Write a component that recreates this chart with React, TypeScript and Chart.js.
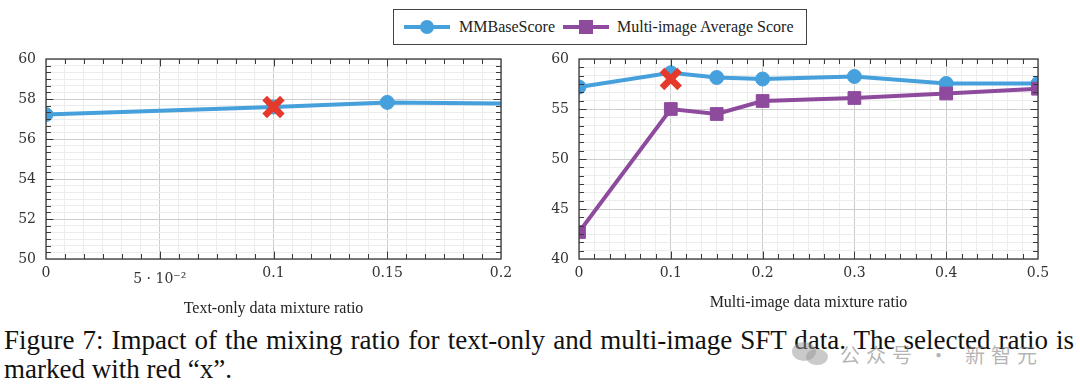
import { useEffect, useRef } from "react";
import { Chart, registerables } from "chart.js";

Chart.register(...registerables);

// ---------- data ----------
const textRatios = [0, 0.1, 0.15, 0.2];
const textMMBase = [57.22, 57.6, 57.83, 57.77];
const textMarkerRadius = [7, 7, 7, 0];
const textSelectedRatio = [0.1];
const textSelectedScore = [57.6];

const multiRatios = [0, 0.1, 0.15, 0.2, 0.3, 0.4, 0.5];
const multiMMBase = [57.2, 58.62, 58.15, 58.0, 58.25, 57.55, 57.55];
const multiAvg = [42.7, 55.0, 54.5, 55.8, 56.1, 56.55, 57.03];
const multiSelectedRatio = [0.1];
const multiSelectedScore = [58.0];

const textXTicks = [0, 0.05, 0.1, 0.15, 0.2];
const textXTickLabels = ["0", "5 · 10⁻²", "0.1", "0.15", "0.2"];
const textYTicks = [50, 52, 54, 56, 58, 60];
const textYTickLabels = ["50", "52", "54", "56", "58", "60"];

const multiXTicks = [0, 0.1, 0.2, 0.3, 0.4, 0.5];
const multiXTickLabels = ["0", "0.1", "0.2", "0.3", "0.4", "0.5"];
const multiYTicks = [40, 45, 50, 55, 60];
const multiYTickLabels = ["40", "45", "50", "55", "60"];

const seriesNames = ["MMBaseScore", "Multi-image Average Score"];

// ---------- styles ----------
const BLUE = "#45a0dc";
const PURPLE = "#8e4a9d";
const RED = "#e5392b";
const SERIF = "'Liberation Serif', 'Times New Roman', serif";
const TICKFONT = "'DejaVu Serif', serif";
const SUBDIV = 6;

function withMinor(majors: number[], sub: number): number[] {
  const out: number[] = [];
  for (let i = 0; i < majors.length - 1; i++) {
    const a = majors[i];
    const b = majors[i + 1];
    for (let k = 0; k < sub; k++) out.push(a + ((b - a) * k) / sub);
  }
  out.push(majors[majors.length - 1]);
  return out;
}

function majorIndex(v: number, majors: number[]): number {
  for (let i = 0; i < majors.length; i++) {
    if (Math.abs(v - majors[i]) < 1e-9) return i;
  }
  return -1;
}

const framePlugin = {
  id: "frame",
  afterDatasetsDraw(chart: any, _args: any, opts: any) {
    const { ctx, chartArea, scales } = chart;
    const { left, right, top, bottom } = chartArea;
    ctx.save();
    ctx.strokeStyle = "#3a3a3a";
    ctx.lineWidth = 1;
    const xs = scales.x;
    const ys = scales.y;
    ctx.beginPath();
    xs.ticks.forEach((t: any) => {
      const p = Math.round(xs.getPixelForValue(t.value)) + 0.5;
      if (p <= left + 1 || p >= right - 1) return;
      const len = majorIndex(t.value, opts.xMajor) >= 0 ? 7.5 : 5;
      ctx.moveTo(p, top);
      ctx.lineTo(p, top + len);
      ctx.moveTo(p, bottom);
      ctx.lineTo(p, bottom - len);
    });
    ys.ticks.forEach((t: any) => {
      const p = Math.round(ys.getPixelForValue(t.value)) + 0.5;
      if (p <= top + 1 || p >= bottom - 1) return;
      const len = majorIndex(t.value, opts.yMajor) >= 0 ? 7.5 : 5;
      ctx.moveTo(left, p);
      ctx.lineTo(left + len, p);
      ctx.moveTo(right, p);
      ctx.lineTo(right - len, p);
    });
    ctx.stroke();
    ctx.lineWidth = 1.3;
    ctx.strokeRect(left, top, right - left, bottom - top);
    ctx.restore();
  },
};

function makeAxis(
  axis: "x" | "y",
  majors: number[],
  labels: string[],
  title: string | null,
  size: number,
  titlePadBottom: number,
  specialLabel: number | null
) {
  const all = withMinor(majors, SUBDIV);
  const base: any = {
    type: "linear",
    min: majors[0],
    max: majors[majors.length - 1],
    afterBuildTicks: (s: any) => {
      s.ticks = all.map((v) => ({ value: v }));
    },
    ticks: {
      autoSkip: false,
      maxRotation: 0,
      minRotation: 0,
      padding: axis === "x" ? 6 : 10,
      color: "#333",
      font: (c: any) => {
        const v = c.tick ? c.tick.value : null;
        if (specialLabel !== null && v !== null && Math.abs(v - specialLabel) < 1e-9) {
          return { family: TICKFONT, size: 14, lineHeight: 2.0 };
        }
        return { family: TICKFONT, size: 14, lineHeight: 1.2 };
      },
      callback: (v: any) => {
        const i = majorIndex(Number(v), majors);
        return i >= 0 ? labels[i] : "";
      },
    },
    grid: {
      drawTicks: false,
      lineWidth: 1,
      color: (c: any) => {
        const v = c.tick ? c.tick.value : 0;
        return majorIndex(v, majors) >= 0 ? "#cdcdcd" : "#ececec";
      },
    },
    border: { display: false },
  };
  if (axis === "x") {
    base.afterFit = (s: any) => {
      s.height = size;
    };
    if (title) {
      base.title = {
        display: true,
        text: title,
        color: "#222",
        font: { family: SERIF, size: 16, lineHeight: 1.2 },
        padding: { top: 0, bottom: titlePadBottom },
      };
    }
  } else {
    base.afterFit = (s: any) => {
      s.width = size;
    };
  }
  return base;
}

function lineDataset(label: string, xs: number[], ys: number[], color: string, style: string, radius: any, order: number) {
  return {
    label,
    data: xs.map((x, i) => ({ x, y: ys[i] })),
    borderColor: color,
    backgroundColor: color,
    borderWidth: 4,
    pointStyle: style,
    pointRadius: radius,
    pointBackgroundColor: color,
    pointBorderColor: color,
    pointBorderWidth: 1,
    tension: 0,
    order,
  };
}

function selectedDataset(xs: number[], ys: number[]) {
  return {
    label: "selected",
    data: xs.map((x, i) => ({ x, y: ys[i] })),
    showLine: false,
    pointStyle: "crossRot",
    pointRadius: 12.5,
    pointBorderWidth: 6.5,
    pointBorderColor: RED,
    pointBackgroundColor: RED,
    borderColor: RED,
    order: 0,
  };
}

function ChartBox(props: { style: any; config: any }) {
  const ref = useRef<HTMLCanvasElement | null>(null);
  useEffect(() => {
    if (!ref.current) return;
    const chart = new Chart(ref.current, props.config);
    return () => chart.destroy();
  }, []);
  return (
    <div style={{ position: "absolute", ...props.style }}>
      <canvas ref={ref} />
    </div>
  );
}

const commonOptions = (padding: any, plugins: any) => ({
  responsive: true,
  maintainAspectRatio: false,
  animation: false,
  layout: { padding },
  plugins: {
    legend: { display: false },
    tooltip: { enabled: false },
    ...plugins,
  },
});

const leftConfig: any = {
  type: "line",
  data: {
    datasets: [
      selectedDataset(textSelectedRatio, textSelectedScore),
      lineDataset(seriesNames[0], textRatios, textMMBase, BLUE, "circle", textMarkerRadius, 2),
    ],
  },
  options: {
    ...commonOptions({ top: 59, right: 18, left: 0, bottom: 0 }, {
      frame: { xMajor: textXTicks, yMajor: textYTicks },
    }),
    scales: {
      x: makeAxis("x", textXTicks, textXTickLabels, "Text-only data mixture ratio", 61, 2, 0.05),
      y: makeAxis("y", textYTicks, textYTickLabels, null, 46, 0, null),
    },
  },
  plugins: [framePlugin],
};

const rightConfig: any = {
  type: "line",
  data: {
    datasets: [
      selectedDataset(multiSelectedRatio, multiSelectedScore),
      lineDataset(seriesNames[1], multiRatios, multiAvg, PURPLE, "rect", 9, 1),
      lineDataset(seriesNames[0], multiRatios, multiMMBase, BLUE, "circle", 7, 2),
    ],
  },
  options: {
    ...commonOptions({ top: 59, right: 42, left: 0, bottom: 0 }, {
      frame: { xMajor: multiXTicks, yMajor: multiYTicks },
    }),
    scales: {
      x: makeAxis("x", multiXTicks, multiXTickLabels, "Multi-image data mixture ratio", 61, 8, null),
      y: makeAxis("y", multiYTicks, multiYTickLabels, null, 49, 0, null),
    },
  },
  plugins: [framePlugin],
};

function LegendSample(props: { color: string; square: boolean }) {
  return (
    <div style={{ position: "relative", width: 46, height: 16, flex: "0 0 auto" }}>
      <div
        style={{
          position: "absolute",
          left: 0,
          right: 0,
          top: 6,
          height: 4,
          background: props.color,
        }}
      />
      <div
        style={{
          position: "absolute",
          left: 16,
          top: 1,
          width: 14,
          height: 14,
          background: props.color,
          borderRadius: props.square ? 0 : 7,
        }}
      />
    </div>
  );
}

export default function App() {
  return (
    <div
      style={{
        position: "fixed",
        left: 0,
        top: 0,
        width: 1080,
        height: 392,
        background: "#fff",
        overflow: "hidden",
        fontFamily: SERIF,
      }}
    >
      <ChartBox style={{ left: 0, top: 0, width: 520, height: 320 }} config={leftConfig} />
      <ChartBox style={{ left: 530, top: 0, width: 550, height: 320 }} config={rightConfig} />

      <div
        style={{
          position: "absolute",
          left: 393,
          top: 9,
          width: 414,
          height: 36,
          boxSizing: "border-box",
          border: "1.3px solid #444",
          background: "#fff",
          display: "flex",
          alignItems: "center",
          paddingLeft: 10,
          fontSize: 16,
          color: "#222",
          whiteSpace: "nowrap",
        }}
      >
        <LegendSample color={BLUE} square={false} />
        <span style={{ marginLeft: 9 }}>{seriesNames[0]}</span>
        <div style={{ marginLeft: 8 }}>
          <LegendSample color={PURPLE} square={true} />
        </div>
        <span style={{ marginLeft: 8 }}>{seriesNames[1]}</span>
      </div>

      <div
        style={{
          position: "absolute",
          left: 4,
          top: 326,
          width: 1070,
          fontSize: 27,
          lineHeight: "29px",
          color: "#111",
          textAlign: "justify",
        }}
      >
        Figure 7: Impact of the mixing ratio for text-only and multi-image SFT data. The selected ratio is
        marked with red “x”.
      </div>

      <div style={{ position: "absolute", left: 792, top: 342, width: 24, height: 19, borderRadius: "50%", background: "rgba(150,150,150,0.5)" }} />
      <div style={{ position: "absolute", left: 806, top: 349, width: 22, height: 16, borderRadius: "50%", background: "rgba(150,150,150,0.5)" }} />
      <div
        style={{
          position: "absolute",
          left: 840,
          top: 340,
          fontFamily: "'Noto Sans CJK SC', sans-serif",
          fontSize: 20,
          letterSpacing: 6,
          color: "rgba(130,130,130,0.6)",
          whiteSpace: "nowrap",
        }}
      >
        公众号 · 新智元
      </div>
    </div>
  );
}
